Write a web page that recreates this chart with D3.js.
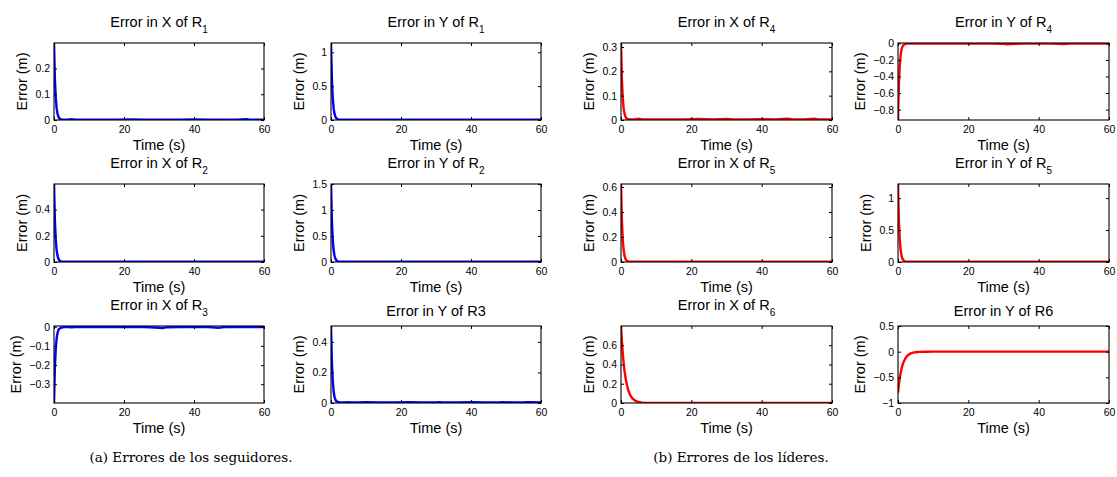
<!DOCTYPE html>
<html><head><meta charset="utf-8">
<script src="https://cdn.jsdelivr.net/npm/d3@7"></script>
<style>
body{margin:0;background:#fff}
svg text{font-family:"Liberation Sans",Arial,Helvetica,sans-serif;fill:#000}
</style>
</head><body>
<svg id="c" width="1117" height="477"></svg>
<script>
// ---- data ----
const time = [0,0.25,0.5,0.75,1,1.25,1.5,2,2.5,3,3.5,4,5,6,8,10,14,18,22,26,30,31,32,36,40,44,47,48,49,52,55,56,57,60];
const xTicks = [0,20,40,60];

const errXR1 = [0.299,0.160,0.086,0.046,0.025,0.013,0.007,0.002,0.001,0.001,0.001,0.001,
  0.003,0.001,0.001,0.001,0.001,0.001,0.002,0.001,0.001,0.001,0.001,0.001,0.002,0.001,0.001,0.001,0.001,0.001,0.003,0.001,0.001,0.001];
const errYR1 = [1.137,0.608,0.326,0.174,0.093,0.050,0.027,0.008,0.004,0.003,0.003,0.003,
  0.004,0.003,0.003,0.003,0.003,0.003,0.004,0.003,0.003,0.003,0.003,0.003,0.004,0.003,0.003,0.003,0.003,0.003,0.004,0.003,0.003,0.003];
const errXR2 = [0.595,0.318,0.171,0.091,0.049,0.026,0.014,0.004,0.002,0.002,0.002,0.002,
  0.003,0.002,0.002,0.002,0.002,0.002,0.003,0.002,0.002,0.002,0.002,0.002,0.002,0.002,0.002,0.002,0.002,0.002,0.003,0.002,0.002,0.002];
const errYR2 = [1.5,0.80,0.43,0.23,0.12,0.066,0.035,0.012,0.006,0.005,0.005,0.005,
  0.006,0.005,0.005,0.005,0.005,0.005,0.006,0.005,0.005,0.005,0.005,0.005,0.005,0.005,0.005,0.005,0.005,0.005,0.006,0.005,0.005,0.005];
const errXR3 = [-0.398,-0.213,-0.114,-0.061,-0.033,-0.018,-0.010,-0.005,-0.003,-0.002,-0.002,-0.002,
  -0.003,-0.001,-0.001,-0.001,-0.001,-0.001,-0.001,-0.002,-0.005,-0.007,-0.003,-0.002,-0.001,-0.002,-0.006,-0.003,-0.001,-0.002,-0.001,-0.002,-0.001,-0.001];
const errYR3 = [0.504,0.270,0.145,0.077,0.041,0.022,0.012,0.007,0.005,0.004,0.004,0.004,
  0.006,0.004,0.003,0.005,0.004,0.003,0.006,0.004,0.003,0.005,0.004,0.003,0.006,0.004,0.004,0.003,0.005,0.004,0.003,0.005,0.006,0.004];
const errXR4 = [0.3165,0.169,0.091,0.048,0.026,0.014,0.007,0.003,0.002,0.002,0.002,0.002,
  0.005,0.002,0.002,0.002,0.002,0.002,0.004,0.002,0.004,0.003,0.002,0.002,0.003,0.002,0.005,0.004,0.002,0.002,0.005,0.002,0.002,0.002];
const errYR4 = [-0.925,-0.495,-0.265,-0.142,-0.076,-0.041,-0.022,-0.008,-0.004,-0.003,-0.003,-0.002,
  -0.002,-0.002,-0.002,-0.002,-0.002,-0.002,-0.002,-0.003,-0.006,-0.012,-0.008,-0.003,-0.002,-0.003,-0.010,-0.007,-0.003,-0.002,-0.002,-0.002,-0.002,-0.002];
const errXR5 = [0.624,0.334,0.179,0.096,0.051,0.027,0.015,0.005,0.002,0.002,0.002,0.002,
  0.003,0.002,0.002,0.002,0.002,0.002,0.003,0.002,0.003,0.002,0.002,0.002,0.002,0.002,0.003,0.003,0.002,0.002,0.002,0.002,0.002,0.002];
const errYR5 = [1.221,0.653,0.350,0.187,0.100,0.054,0.029,0.009,0.005,0.004,0.004,0.004,
  0.004,0.004,0.004,0.004,0.004,0.004,0.005,0.004,0.004,0.004,0.004,0.004,0.004,0.004,0.004,0.004,0.004,0.004,0.004,0.004,0.004,0.004];
const errXR6 = [0.799,0.643,0.517,0.416,0.335,0.269,0.217,0.141,0.091,0.059,0.038,0.025,
  0.010,0.004,0.001,0,0,0,0,0,0,0,0,0,0,0,0,0,0,0,0,0,0,0];
const errYR6 = [-0.800,-0.644,-0.518,-0.417,-0.335,-0.270,-0.217,-0.141,-0.091,-0.059,-0.038,-0.025,
  -0.010,-0.004,-0.001,0,0,0,0,0,0,0,0,0,0,0,0,0,0,0,0,0,0,0];

const titles = ["Error in X of R","Error in Y of R","Error in X of R","Error in Y of R",
                "Error in X of R","Error in Y of R","Error in X of R","Error in Y of R",
                "Error in X of R","Error in Y of R3","Error in X of R","Error in Y of R6"];
const subs   = ["1","1","4","4","2","2","5","5","3","","6",""];
const series = [errXR1,errYR1,errXR4,errYR4,errXR2,errYR2,errXR5,errYR5,errXR3,errYR3,errXR6,errYR6];
const yDomains = [[0,0.299],[0,1.137],[0,0.3165],[-0.925,0.004],
                  [0,0.595],[0,1.5],[0,0.624],[0,1.221],
                  [-0.398,0.004],[0,0.504],[0,0.799],[-1,0.5]];
const yTicks = [[0,0.1,0.2],[0,0.5,1],[0,0.1,0.2,0.3],[-0.8,-0.6,-0.4,-0.2,0],
                [0,0.2,0.4],[0,0.5,1,1.5],[0,0.2,0.4,0.6],[0,0.5,1],
                [-0.3,-0.2,-0.1,0],[0,0.2,0.4],[0,0.2,0.4,0.6],[-1,-0.5,0,0.5]];
const lineColors = ["#0000ff","#0000ff","#ff0000","#ff0000"];
const captions = ["(a) Errores de los seguidores.","(b) Errores de los líderes."];

// ---- layout ----
const colL = [54,331,621,898], colR = [264,541,832,1109];
const rowT = [43,184,326], rowB = [120,262,403];
const svg = d3.select("#c");
const fmt = v => (v < 0 ? "\u2212" : "") + Math.abs(v);

series.forEach((vals, i) => {
  const r = Math.floor(i/4), c = i%4;
  const w = colR[c]-colL[c], h = rowB[r]-rowT[r];
  const g = svg.append("g").attr("transform",`translate(${colL[c]},${rowT[r]})`);
  const x = d3.scaleLinear().domain([0,60]).range([0,w]);
  const y = d3.scaleLinear().domain(yDomains[i]).range([h,0]);
  const tk = 3;

  g.append("rect").attr("width",w).attr("height",h).attr("fill","#fff");
  const clipId = "clip"+i;
  g.append("clipPath").attr("id",clipId).append("rect").attr("width",w).attr("height",h);

  const line = d3.line().x((d,j)=>x(time[j])).y(d=>y(d));
  g.append("path").datum(vals).attr("clip-path",`url(#${clipId})`)
    .attr("fill","none").attr("stroke",lineColors[c]).attr("stroke-width",2.4)
    .attr("stroke-linejoin","round").attr("d",line);

  const ax = g.append("g").attr("transform",`translate(0,${h})`)
    .call(d3.axisBottom(x).tickValues(xTicks).tickSizeInner(-tk).tickSizeOuter(0).tickPadding(3).tickFormat(fmt));
  const ay = g.append("g")
    .call(d3.axisLeft(y).tickValues(yTicks[i]).tickSizeInner(-tk).tickSizeOuter(0).tickPadding(4).tickFormat(fmt));
  g.append("g").call(d3.axisTop(x).tickValues(xTicks).tickSizeInner(-tk).tickSizeOuter(0).tickFormat(""));
  g.append("g").attr("transform",`translate(${w},0)`)
    .call(d3.axisRight(y).tickValues(yTicks[i]).tickSizeInner(-tk).tickSizeOuter(0).tickFormat(""));
  g.selectAll(".domain").remove();
  g.selectAll(".tick line").attr("stroke","#000");
  ax.selectAll("text").attr("font-size",10.5).attr("fill","#1a1a1a").attr("dy","0.95em");
  ay.selectAll("text").attr("font-size",10.5).attr("fill","#1a1a1a");
  g.append("rect").attr("width",w).attr("height",h).attr("fill","none").attr("stroke","#000").attr("stroke-width",1.1);

  const t = g.append("text").attr("x",w/2).attr("y", subs[i] ? -16.5 : -10)
    .attr("text-anchor","middle").attr("font-size",14.5).text(titles[i]);
  if (subs[i]) t.append("tspan").attr("dy",6).attr("font-size",10).text(subs[i]);

  g.append("text").attr("x",w/2).attr("y",h+29.5).attr("text-anchor","middle")
    .attr("font-size",14.5).text("Time (s)");

  let minX = 0;
  ay.selectAll("text").each(function(){ const b=this.getBBox(); minX=Math.min(minX,b.x); });
  const lx = minX - 8;
  g.append("text").attr("transform",`translate(${lx},${h/2}) rotate(-90)`)
    .attr("text-anchor","middle").attr("font-size",14.5).text("Error (m)");
});

svg.append("text").attr("x",191).attr("y",462).attr("text-anchor","middle")
  .style("font-family","'DejaVu Serif','Liberation Serif',serif").attr("font-size",13.5).text(captions[0]);
svg.append("text").attr("x",741).attr("y",462).attr("text-anchor","middle")
  .style("font-family","'DejaVu Serif','Liberation Serif',serif").attr("font-size",13.5).text(captions[1]);
</script>
</body></html>
